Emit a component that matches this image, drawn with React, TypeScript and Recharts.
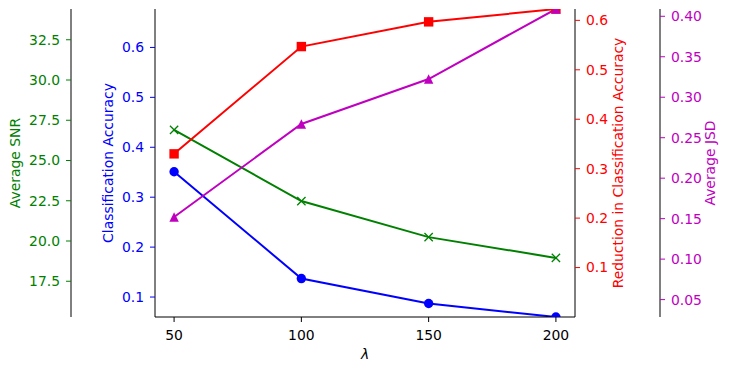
import { LineChart, Line, XAxis, YAxis, Label } from 'recharts';

const lambdas = [50, 100, 150, 200];
const accuracy = [0.351, 0.137, 0.087, 0.06];
const snr = [26.9, 22.48, 20.24, 18.95];
const reduction = [0.33, 0.547, 0.597, 0.623];
const jsd = [0.152, 0.267, 0.3225, 0.409];

const xTicks = [50, 100, 150, 200];
const accTicks = [0.1, 0.2, 0.3, 0.4, 0.5, 0.6];
const snrTicks = [17.5, 20, 22.5, 25, 27.5, 30, 32.5];
const redTicks = [0.1, 0.2, 0.3, 0.4, 0.5, 0.6];
const jsdTicks = [0.05, 0.1, 0.15, 0.2, 0.25, 0.3, 0.35, 0.4];

const data = lambdas.map((l, i) => ({
  lambda: l,
  acc: accuracy[i],
  snr: snr[i],
  red: reduction[i],
  jsd: jsd[i],
}));

const BLUE = '#0000ff';
const GREEN = '#008000';
const RED = '#ff0000';
const MAGENTA = '#bf00bf';
const FS = 13.9;
const M = 4.7; // half marker size (filled markers, incl. edge)
const MX = 4.15; // half size of the x marker

const axisLabel = (text: string, color: string, dx: number) => (props: any) => {
  const vb = props.viewBox || {};
  const x = vb.x + dx;
  const y = vb.y + vb.height / 2;
  return (
    <text
      x={x}
      y={y}
      fill={color}
      fontSize={FS}
      textAnchor="middle"
      dominantBaseline="central"
      transform={`rotate(-90, ${x}, ${y})`}
    >
      {text}
    </text>
  );
};

const circleDot = (p: any) => <circle key={`c${p.index}`} cx={p.cx} cy={p.cy} r={M} fill={BLUE} />;
const squareDot = (p: any) => (
  <rect key={`s${p.index}`} x={p.cx - M} y={p.cy - M} width={2 * M} height={2 * M} fill={RED} />
);
const triDot = (p: any) => (
  <polygon
    key={`t${p.index}`}
    points={`${p.cx},${p.cy - M} ${p.cx - M},${p.cy + M} ${p.cx + M},${p.cy + M}`}
    fill={MAGENTA}
  />
);
const xDot = (p: any) => (
  <g key={`x${p.index}`} stroke={GREEN} strokeWidth={1.3}>
    <line x1={p.cx - MX} y1={p.cy - MX} x2={p.cx + MX} y2={p.cy + MX} />
    <line x1={p.cx - MX} y1={p.cy + MX} x2={p.cx + MX} y2={p.cy - MX} />
  </g>
);

const yCommon = {
  type: 'number' as const,
  allowDataOverflow: true,
  tickSize: 5,
  tickMargin: 6,
  axisLine: { stroke: '#000', strokeWidth: 1 },
  interval: 0 as const,
};

// axis ids sort so that "1" sits next to the plot and "2" is offset outward
export default function App() {
  return (
    <div style={{ position: 'absolute', left: 0, top: 0, fontFamily: 'DejaVu Sans' }}>
      <LineChart width={729} height={372} data={data} margin={{ top: 9, right: 0, bottom: 0, left: 0 }}>
        <XAxis
          dataKey="lambda"
          type="number"
          domain={[42.5, 207.5]}
          ticks={xTicks}
          interval={0}
          height={55}
          tickSize={5}
          tickMargin={8}
          axisLine={{ stroke: '#000' }}
          tickLine={{ stroke: '#000' }}
          tick={{ fill: '#000', fontSize: FS }}
        >
          <Label
            content={(props: any) => {
              const vb = props.viewBox || {};
              return (
                <text
                  x={vb.x + vb.width / 2}
                  y={vb.y + 42}
                  fontSize={FS}
                  fontStyle="italic"
                  textAnchor="middle"
                  fill="#000"
                >
                  λ
                </text>
              );
            }}
          />
        </XAxis>
        <XAxis
          xAxisId="top"
          orientation="top"
          dataKey="lambda"
          type="number"
          domain={[42.5, 207.5]}
          height={0}
          tick={false}
          tickLine={false}
          axisLine={{ stroke: '#000' }}
        />
        <YAxis
          {...yCommon}
          yAxisId="l1"
          orientation="left"
          width={84}
          domain={[0.06, 0.677]}
          ticks={accTicks}
          tickFormatter={(v: number) => v.toFixed(1)}
          tickLine={{ stroke: BLUE }}
          tick={{ fill: BLUE, fontSize: FS }}
        >
          <Label content={axisLabel('Classification Accuracy', BLUE, 37)} />
        </YAxis>
        <YAxis
          {...yCommon}
          yAxisId="l2"
          orientation="left"
          width={71}
          domain={[15.28, 34.41]}
          ticks={snrTicks}
          tickFormatter={(v: number) => v.toFixed(1)}
          tickLine={{ stroke: GREEN }}
          tick={{ fill: GREEN, fontSize: FS }}
        >
          <Label content={axisLabel('Average SNR', GREEN, 15)} />
        </YAxis>
        <YAxis
          {...yCommon}
          yAxisId="r1"
          orientation="right"
          width={85}
          domain={[0, 0.623]}
          ticks={redTicks}
          tickFormatter={(v: number) => v.toFixed(1)}
          tickLine={{ stroke: RED }}
          tick={{ fill: RED, fontSize: FS }}
        >
          <Label content={axisLabel('Reduction in Classification Accuracy', RED, 43)} />
        </YAxis>
        <YAxis
          {...yCommon}
          yAxisId="r2"
          orientation="right"
          width={69}
          domain={[0.0285, 0.409]}
          ticks={jsdTicks}
          tickFormatter={(v: number) => v.toFixed(2)}
          tickLine={{ stroke: MAGENTA }}
          tick={{ fill: MAGENTA, fontSize: FS }}
        >
          <Label content={axisLabel('Average JSD', MAGENTA, 50)} />
        </YAxis>
        <Line yAxisId="l1" dataKey="acc" stroke={BLUE} strokeWidth={2} dot={circleDot} activeDot={false} isAnimationActive={false} />
        <Line yAxisId="l2" dataKey="snr" stroke={GREEN} strokeWidth={2} dot={xDot} activeDot={false} isAnimationActive={false} />
        <Line yAxisId="r1" dataKey="red" stroke={RED} strokeWidth={2} dot={squareDot} activeDot={false} isAnimationActive={false} />
        <Line yAxisId="r2" dataKey="jsd" stroke={MAGENTA} strokeWidth={2} dot={triDot} activeDot={false} isAnimationActive={false} />
      </LineChart>
    </div>
  );
}
